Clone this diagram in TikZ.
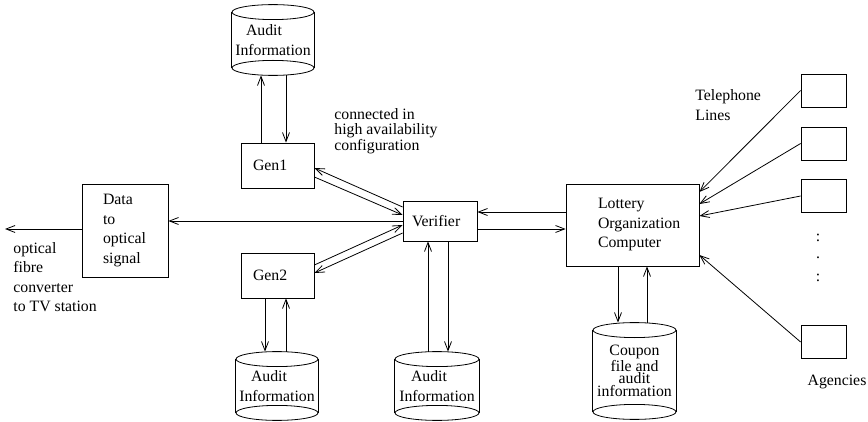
\documentclass[tikz,border=0pt]{standalone}
\usepackage{fontspec}
\setmainfont{Liberation Serif}
\usetikzlibrary{arrows.meta,calc}
\newcommand\cylbody[2]{%
  \draw ($(#1.north west)+(0,7.5)$) -- ($(#1.south west)+(0,-7.5)$);
  \draw ($(#1.north east)+(0,7.5)$) -- ($(#1.south east)+(0,-7.5)$);
  \draw ($(#1.north)+(0,7.5)$) ellipse [x radius=#2, y radius=7.5pt];
  \draw ($(#1.south)+(0,-7.5)$) ellipse [x radius=#2, y radius=7.5pt];
}
\begin{document}
\begin{tikzpicture}[x=1pt,y=-1pt, line width=0.8pt,
  every node/.style={font=\fontsize{15.8}{19.5}\selectfont},
  box/.style={draw, rectangle, inner ysep=0pt, align=left},
  cyl/.style={rectangle, inner sep=0pt, align=center},
  arr/.style={-{Straight Barb[length=9pt,width=7pt]}},
  lbl/.style={align=left, inner sep=0pt}]
\useasboundingbox (0,0) rectangle (868,422);

% boxes
\node[box, minimum width=86pt, minimum height=93pt, text width=44pt, inner xsep=21pt] (data) at (125,230.5) {Data\\to\\optical\\signal};
\node[box, minimum width=73pt, minimum height=45pt, text width=49pt, inner xsep=12pt] (gen1) at (277.5,165.5) {Gen1};
\node[box, minimum width=73pt, minimum height=45pt, text width=49pt, inner xsep=12pt] (gen2) at (277.5,275.5) {Gen2};
\node[box, minimum width=74pt, minimum height=40pt, text width=56pt, inner xsep=9pt] (ver) at (440,221) {Verifier};
\node[box, minimum width=133pt, minimum height=82pt, text width=69pt, inner xsep=32pt] (lot) at (632.5,225) {Lottery\\Organization\\Computer};
\node[box, minimum width=45pt, minimum height=33pt] (ag1) at (823.5,90.5) {};
\node[box, minimum width=45pt, minimum height=33pt] (ag2) at (823.5,143.5) {};
\node[box, minimum width=45pt, minimum height=33pt] (ag3) at (823.5,196) {};
\node[box, minimum width=45pt, minimum height=33pt] (ag4) at (823.5,342) {};

% cylinders
\node[cyl, minimum width=82pt, minimum height=70pt] (a1) at (273,40) {Audit\rule{18pt}{0pt}\\Information};
\cylbody{a1}{41pt}
\node[cyl, minimum width=82pt, minimum height=68pt] (a2) at (277,386) {Audit\rule{16pt}{0pt}\\Information};
\cylbody{a2}{41pt}
\node[cyl, minimum width=84pt, minimum height=68pt] (a3) at (437,386) {Audit\rule{16pt}{0pt}\\Information};
\cylbody{a3}{42pt}
\node[cyl, minimum width=83pt, minimum height=96pt, font=\fontsize{15.8}{12.5}\selectfont] (cp) at (634.5,371) {Coupon\\file and\\audit\\information};
\cylbody{cp}{41.5pt}

% Gen1 <-> a1
\coordinate (g1u) at ($(gen1.north)+(-16.5,0)$);
\draw[arr] (g1u) -- (g1u |- a1.south);
\coordinate (g1d) at ($(gen1.north)+(8.5,0)$);
\draw[arr] (g1d |- a1.south) -- (g1d);
% Gen2 <-> a2
\coordinate (g2d) at ($(gen2.south)+(-12.5,0)$);
\draw[arr] (g2d) -- (g2d |- a2.north);
\coordinate (g2u) at ($(gen2.south)+(8.5,0)$);
\draw[arr] (g2u |- a2.north) -- (g2u);
% Verifier <-> a3
\coordinate (vu) at ($(ver.south)+(-12,0)$);
\draw[arr] (vu |- a3.north) -- (vu);
\coordinate (vd) at ($(ver.south)+(8,0)$);
\draw[arr] (vd) -- (vd |- a3.north);
% Lottery <-> coupon
\coordinate (ld) at ($(lot.south)+(-14.5,0)$);
\draw[arr] (ld) -- (ld |- cp.north);
\coordinate (lu) at ($(lot.south)+(14.5,0)$);
\draw[arr] (lu |- cp.north) -- (lu);

% Gen <-> Verifier
\draw[arr] ($(ver.west)+(0,-14)$) -- ($(gen1.east)+(0,2.5)$);
\draw[arr] ($(gen1.east)+(0,11.5)$) -- ($(ver.west)+(0,-6)$);
\draw[arr] ($(gen2.east)+(0,-10.5)$) -- ($(ver.west)+(0,4)$);
\draw[arr] ($(ver.west)+(0,12)$) -- ($(gen2.east)+(0,-2.5)$);

% Verifier -> data -> out
\draw[arr] (ver.west) -- (ver.west -| data.east);
\coordinate (out) at (5,229);
\draw[arr] (out -| data.west) -- (out);

% Verifier <-> Lottery
\coordinate (vl1) at ($(lot.west)+(0,-13)$);
\draw[arr] (vl1) -- (vl1 -| ver.east);
\coordinate (vl2) at ($(ver.east)+(0,8)$);
\draw[arr] (vl2) -- (vl2 -| lot.west);

% agencies
\draw[arr] (ag1.west) -- ($(lot.east)+(0,-33)$);
\draw[arr] (ag2.west) -- ($(lot.east)+(0,-21)$);
\draw[arr] (ag3.west) -- ($(lot.east)+(0,-9)$);
\draw[arr] (ag4.west) -- ($(lot.east)+(0,30)$);

% labels
\node[lbl, anchor=west, font=\fontsize{15.8}{15.5}\selectfont] (conn) at (334,131) {connected in\\high availability\\configuration};
\node[lbl, anchor=west] (tel) at (695,105) {Telephone\\Lines};
\node[lbl, anchor=west] (opt) at (13,277) {optical\\fibre\\converter\\to TV station};
\node (agl) at (837,382) {Agencies};
\node (d1) at (818,238) {:};
\node (d2) at (818,258) {.};
\node (d3) at (818,278) {:};
\end{tikzpicture}
\end{document}
